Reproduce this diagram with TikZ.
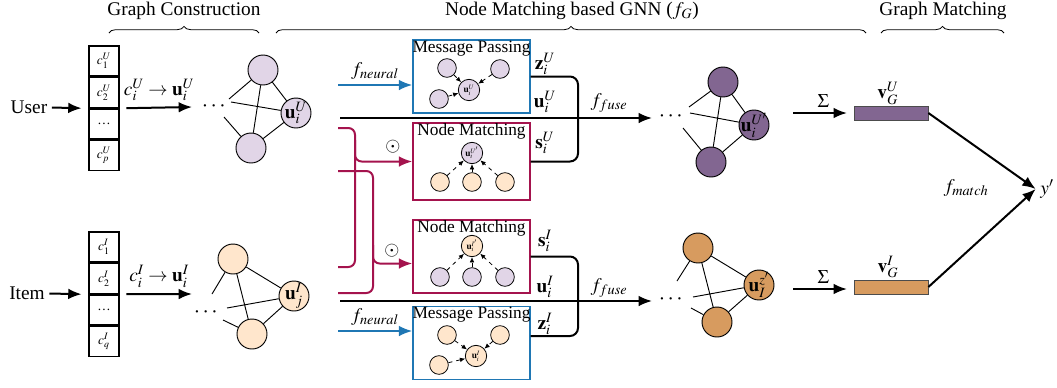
\documentclass[tikz,border=0pt]{standalone}
\usepackage{amsmath}
\usepackage{mathptmx}
\usepackage{fontspec}
\setmainfont{Liberation Serif}
\usepackage{xcolor}
\usetikzlibrary{positioning, decorations.pathreplacing, calc, arrows.meta}

\definecolor{lpurple}{HTML}{E1D5E7}
\definecolor{lorange}{HTML}{FFE6CC}
\definecolor{dpurple}{HTML}{826691}
\definecolor{dorange}{HTML}{D79B5F}
\definecolor{mpblue}{HTML}{1F77B4}
\definecolor{nmred}{HTML}{A4134D}

\begin{document}
\begin{tikzpicture}[x=0.75pt, y=-0.75pt,
  font=\fontsize{14.5}{17}\selectfont,
  cell/.style={draw, line width=1.1pt, minimum width=22.5pt, minimum height=22.5pt, inner sep=0pt, font=\fontsize{10}{11}\selectfont},
  gnode/.style={circle, draw, line width=0.7pt, minimum size=22.5pt, inner sep=0pt},
  snode/.style={circle, draw, line width=0.6pt, minimum size=14pt, inner sep=0pt, font=\fontsize{7}{8}\selectfont},
  cnode/.style={snode, minimum size=16pt},
  edge/.style={line width=0.7pt},
  flow/.style={-{Latex[length=10pt, width=8pt]}, line width=1.5pt},
  dflow/.style={-{Latex[length=4pt, width=3.5pt]}, dashed, line width=0.6pt},
  fuse/.style={line width=1.5pt, rounded corners=6pt},
  mpbox/.style={draw=mpblue, line width=1.1pt, minimum width=87.75pt, minimum height=54.75pt},
  nmbox/.style={draw=nmred, line width=1.1pt, minimum width=87.75pt, minimum height=54.75pt},
  title/.style={anchor=north, inner sep=1pt, font=\fontsize{13}{14}\selectfont},
  nmline/.style={draw=nmred, line width=1.5pt, rounded corners=5pt},
  bar/.style={draw=black!70, line width=0.6pt, minimum width=55.5pt, minimum height=10.5pt, inner sep=0pt},
  gdots/.style={font=\fontsize{17}{17}\selectfont},
  brc/.style={decorate, decoration={brace, amplitude=5pt}, line width=0.6pt}]
\useasboundingbox (0,0) rectangle (1057,387);

% headings
\node (gcons) at (184,11) {Graph Construction};
\node (nmgnn) at (572,11) {Node Matching based GNN ($f_G$)};
\node (gmatch) at (943,11) {Graph Matching};
\draw[brc] (109,33) -- (259,33);
\draw[brc] (276,33) -- (866,33);
\draw[brc] (881,33) -- (1004,33);

% user graph construction
\node (user) at (29,107) {User};
\node[cell] (cu1) at (104,61) {$c_1^U$};
\node[cell, below=0pt of cu1] (cu2) {$c_2^U$};
\node[cell, below=0pt of cu2] (cu3) {\dots};
\node[cell, below=0pt of cu3] (cu4) {$c_p^U$};
\draw[flow] (user) -- ([xshift=-5pt]cu2.south west);
\node[gdots] (udots) at (215,107) {$\cdots$};
\coordinate (uarr) at (192,107);
\draw[flow] ([xshift=5pt]cu2.south east) -- (uarr) node[midway, above=1pt] {$c_i^U \rightarrow \mathbf{u}_i^U$};
\node[gnode, fill=lpurple] (ua) at (263,70) {};
\node[gnode, fill=lpurple, label=center:{$\mathbf{u}_i^U$}] (ub) at (296,113) {};
\node[gnode, fill=lpurple] (uc) at (251,148) {};
\coordinate (ue1) at (229,99);
\coordinate (ue2) at (231,102);
\coordinate (ue3) at (224,117);
\draw[edge] (ua) -- (uc) (ua) -- (ub) (uc) -- (ub) (ue1) -- (ua) (ue2) -- (ub) (ue3) -- (uc);

% item graph construction
\node (item) at (27,293) {Item};
\node[cell] (ci1) at (104,247) {$c_1^I$};
\node[cell, below=0pt of ci1] (ci2) {$c_2^I$};
\node[cell, below=0pt of ci2] (ci3) {\dots};
\node[cell, below=0pt of ci3] (ci4) {$c_q^I$};
\draw[flow] (item) -- ([xshift=-5pt]ci2.south west);
\node[gdots] (idots) at (207,313) {$\cdots$};
\coordinate (iarr) at (192,294);
\draw[flow] ([xshift=5pt]ci2.south east) -- (iarr) node[midway, above=1pt] {$c_i^I \rightarrow \mathbf{u}_i^I$};
\node[gnode, fill=lorange] (ia) at (233,259) {};
\node[gnode, fill=lorange, label=center:{$\mathbf{u}_j^I$}] (ib) at (294,296) {};
\node[gnode, fill=lorange] (ic) at (252,334) {};
\coordinate (ie1) at (212,294);
\coordinate (ie2) at (227,308);
\coordinate (ie3) at (223,320);
\draw[edge] (ia) -- (ic) (ia) -- (ib) (ic) -- (ib) (ie1) -- (ia) (ie2) -- (ib) (ie3) -- (ic);

% message passing (user)
\node[mpbox] (mpu) at (471.5,76.5) {};
\node[title] (mput) at (mpu.north) {Message Passing};
\node[snode, fill=lpurple] (mpu1) at (447,68) {};
\node[snode, fill=lpurple] (mpu2) at (500,69) {};
\node[snode, fill=lpurple] (mpu3) at (439,99) {};
\node[cnode, fill=lpurple] (mpuc) at (469,90) {$\mathbf{u}_i^U$};
\draw[dflow] (mpu1) -- (mpuc);
\draw[dflow] (mpu2) -- (mpuc);
\draw[dflow] (mpu3) -- (mpuc);

% node matching (user)
\node[nmbox, minimum height=57.75pt] (nmu) at (471.5,161.5) {};
\node[title] (nmut) at (nmu.north) {Node Matching};
\node[cnode, fill=lpurple] (nmuc) at (472,153) {$\mathbf{u}_i^{U'}$};
\node[snode, fill=lorange] (nmu1) at (440,182) {};
\node[snode, fill=lorange] (nmu2) at (472,182) {};
\node[snode, fill=lorange] (nmu3) at (505,182) {};
\draw[dflow] (nmu1) -- (nmuc);
\draw[dflow] (nmu2) -- (nmuc);
\draw[dflow] (nmu3) -- (nmuc);

% node matching (item)
\node[nmbox] (nmi) at (471.5,256.5) {};
\node[title] (nmit) at (nmi.north) {Node Matching};
\node[cnode, fill=lorange] (nmic) at (472,246) {$\mathbf{u}_i^{I'}$};
\node[snode, fill=lpurple] (nmi1) at (440,277) {};
\node[snode, fill=lpurple] (nmi2) at (472,277) {};
\node[snode, fill=lpurple] (nmi3) at (505,277) {};
\draw[dflow] (nmi1) -- (nmic);
\draw[dflow] (nmi2) -- (nmic);
\draw[dflow] (nmi3) -- (nmic);

% message passing (item)
\node[mpbox] (mpi) at (471.5,343) {};
\node[title] (mpit) at (mpi.north) {Message Passing};
\node[snode, fill=lorange] (mpi1) at (447,335) {};
\node[snode, fill=lorange] (mpi2) at (500,335) {};
\node[snode, fill=lorange] (mpi3) at (439,365) {};
\node[cnode, fill=lorange] (mpic) at (476,356) {$\mathbf{u}_i^I$};
\draw[dflow] (mpi1) -- (mpic);
\draw[dflow] (mpi2) -- (mpic);
\draw[dflow] (mpi3) -- (mpic);

% inputs of the boxes
\coordinate (nu) at (338,85);
\draw[flow, draw=mpblue] (nu) -- (mpu.west |- nu) node[midway, above] {$f_{neural}$};
\coordinate (ni) at (338,331);
\draw[flow, draw=mpblue] (ni) -- (mpi.west |- ni) node[midway, above] {$f_{neural}$};
\coordinate (mu1) at (338,128);
\coordinate (mi1) at (338,267);
\coordinate (mu2) at (338,171);
\coordinate (mi2) at (338,293);
\draw[nmline] (mu1) -- (355,128) -- (355,267) -- (mi1);
\draw[nmline, -{Latex[length=10pt, width=8pt]}] (355,140) |- (nmu.west);
\draw[nmline] (mu2) -- (373,171) -- (373,293) -- (mi2);
\draw[nmline, -{Latex[length=10pt, width=8pt]}] (373,245) |- ($(nmi.west)+(0,7)$);
\node (odu) at (393,147) {$\odot$};
\node (odi) at (392,251) {$\odot$};

% fusion (user)
\coordinate (uu) at (340,118);
\node[gdots] (ufd) at (672,117) {$\cdots$};
\coordinate (ufa) at (652,118);
\draw[flow] (uu) -- (ufa);
\coordinate (fu) at (578,118);
\draw[fuse] (mpu.east) -| (fu) |- (nmu.east);
\node (zu) at (545,64) {$\mathbf{z}_i^U$};
\node (uiu) at (545,102) {$\mathbf{u}_i^U$};
\node (su) at (545,143) {$\mathbf{s}_i^U$};
\node (ffu) at (609,103) {$f_{fuse}$};

% fusion (item)
\coordinate (ii) at (340,301);
\node[gdots] (ifd) at (672,300) {$\cdots$};
\coordinate (ifa) at (652,301);
\draw[flow] (ii) -- (ifa);
\coordinate (fi) at (578,301);
\draw[fuse] (nmi.east) -| (fi) |- ($(mpi.east)+(0,-7)$);
\node (sii) at (545,241) {$\mathbf{s}_i^I$};
\node (uii) at (545,287) {$\mathbf{u}_i^I$};
\node (zii) at (545,324) {$\mathbf{z}_i^I$};
\node (ffi) at (609,288) {$f_{fuse}$};

% fused graphs
\node[gnode, fill=dpurple] (fua) at (723,82) {};
\node[gnode, fill=dpurple, label=center:{$\mathbf{u}_i^{U'}$}] (fub) at (754,125) {};
\node[gnode, fill=dpurple] (fuc) at (711,162) {};
\coordinate (fue1) at (689,107);
\coordinate (fue2) at (690,113);
\coordinate (fue3) at (683,128);
\draw[edge] (fua) -- (fuc) (fua) -- (fub) (fuc) -- (fub) (fue1) -- (fua) (fue2) -- (fub) (fue3) -- (fuc);
\node[gnode, fill=dorange] (fia) at (698,248) {};
\node[gnode, fill=dorange, label=center:{$\mathbf{u}_I^{z'}$}] (fib) at (759,285) {};
\node[gnode, fill=dorange] (fic) at (717,322) {};
\coordinate (fie1) at (677,281);
\coordinate (fie2) at (693,297);
\coordinate (fie3) at (691,308);
\draw[edge] (fia) -- (fic) (fia) -- (fib) (fic) -- (fib) (fie1) -- (fia) (fie2) -- (fib) (fie3) -- (fic);

% graph matching
\node[bar, fill=dpurple] (vu) at (891,113) {};
\node[bar, fill=dorange] (vi) at (891,287) {};
\node (vgu) at (888,93) {$\mathbf{v}_G^U$};
\node (vgi) at (888,267) {$\mathbf{v}_G^I$};
\coordinate (sgu) at (793,113);
\coordinate (sgi) at (793,289);
\draw[flow, shorten >=5pt] (sgu) -- (vu.west) node[midway, above] {$\Sigma$};
\draw[flow, shorten >=5pt] (sgi) -- (vi.west |- sgi) node[midway, above] {$\Sigma$};
\node (yout) at (1047,189) {$y'$};
\draw[flow] (vu.east) -- (yout.west);
\draw[flow] (vi.east) -- (yout.west);
\node (fmatch) at (966,188) {$f_{match}$};
\end{tikzpicture}
\end{document}
